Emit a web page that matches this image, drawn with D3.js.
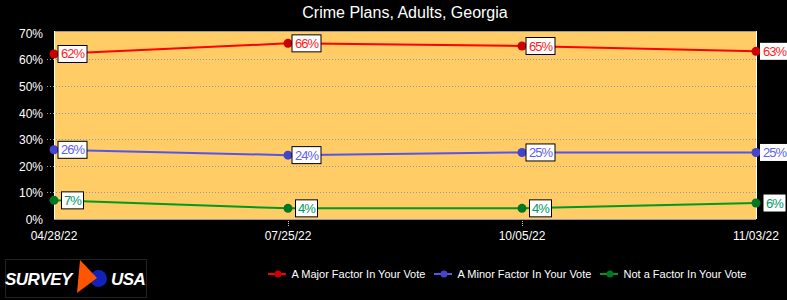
<!DOCTYPE html>
<html>
<head>
<meta charset="utf-8">
<script src="https://cdn.jsdelivr.net/npm/d3@7"></script>
<style>
  body { margin: 0; background: #000; }
  svg { display: block; font-family: Arial, "Liberation Sans", sans-serif; }
</style>
</head>
<body>
<div id="chart"></div>
<script>
var dates = ["04/28/22", "07/25/22", "10/05/22", "11/03/22"];
var major = [62, 66, 65, 63];
var minor = [26, 24, 25, 25];
var notFactor = [7, 4, 4, 6];
var yTicks = [0, 10, 20, 30, 40, 50, 60, 70];

var series = [
  { name: "A Major Factor In Your Vote", values: major, line: "#ff0000", dot: "#cc0000", text: "#ff2020" },
  { name: "A Minor Factor In Your Vote", values: minor, line: "#5555ee", dot: "#4444cc", text: "#6060ee" },
  { name: "Not a Factor In Your Vote", values: notFactor, line: "#009922", dot: "#007722", text: "#009966" }
];

var W = 787, H = 300,
    margin = { top: 31, right: 31, bottom: 81, left: 54 },
    width = W - margin.left - margin.right,
    height = H - margin.top - margin.bottom;

var svg = d3.select("#chart").append("svg").attr("width", W).attr("height", H);
svg.append("rect").attr("width", W).attr("height", H).attr("fill", "#000");

svg.append("text").text("Crime Plans, Adults, Georgia")
  .attr("x", margin.left + width / 2).attr("y", 18).attr("text-anchor", "middle")
  .attr("fill", "#fff").style("font-size", "16px");

var g = svg.append("g").attr("transform", "translate(" + margin.left + "," + margin.top + ")");

var x = d3.scalePoint().domain(dates).range([0, width]);
var y = d3.scaleLinear().domain([0, 70]).range([height, 1.7]);

g.append("rect").attr("width", width).attr("height", height).attr("fill", "#ffcc66");

// gridlines
g.selectAll(".grid").data(yTicks.filter(function(d) { return d > 0 && d < 70; }))
  .enter().append("line")
  .attr("x1", -7).attr("x2", width)
  .attr("y1", function(d) { return Math.round(y(d)) + 0.5; })
  .attr("y2", function(d) { return Math.round(y(d)) + 0.5; })
  .attr("stroke", "#8899bb").attr("stroke-dasharray", "1,2");

// borders
g.append("line").attr("x1", 0).attr("x2", width).attr("y1", 0.5).attr("y2", 0.5).attr("stroke", "#999");
g.append("line").attr("x1", 0).attr("x2", width).attr("y1", height + 0.5).attr("y2", height + 0.5).attr("stroke", "#999");
g.append("line").attr("x1", 0.5).attr("x2", 0.5).attr("y1", 0).attr("y2", height).attr("stroke", "#fff");
g.append("line").attr("x1", width + 0.5).attr("x2", width + 0.5).attr("y1", 0).attr("y2", height).attr("stroke", "#fff");

// y labels
g.selectAll(".ylab").data(yTicks).enter().append("text")
  .text(function(d) { return d + "%"; })
  .attr("x", -11).attr("y", function(d) { return y(d) + 5; })
  .attr("text-anchor", "end").attr("fill", "#fff").style("font-size", "12px");

// x ticks and labels
g.selectAll(".xtick").data(dates.slice(1, -1)).enter().append("line")
  .attr("x1", function(d) { return Math.round(x(d)) + 0.5; })
  .attr("x2", function(d) { return Math.round(x(d)) + 0.5; })
  .attr("y1", height + 2).attr("y2", height + 8)
  .attr("stroke", "#ccc").attr("stroke-dasharray", "1,1");

g.selectAll(".xlab").data(dates).enter().append("text")
  .text(function(d) { return d; })
  .attr("x", function(d) { return x(d); }).attr("y", height + 21)
  .attr("text-anchor", "middle").attr("fill", "#fff").style("font-size", "12px");

var line = d3.line()
  .x(function(d, i) { return x(dates[i]); })
  .y(function(d) { return y(d); });

series.forEach(function(s) {
  g.append("path").datum(s.values).attr("d", line)
    .attr("fill", "none").attr("stroke", s.line).attr("stroke-width", 2);
});

series.forEach(function(s) {
  var pts = g.selectAll(null).data(s.values).enter().append("g")
    .attr("transform", function(d, i) { return "translate(" + x(dates[i]) + "," + y(d) + ")"; });
  pts.append("circle").attr("r", 4.5).attr("fill", s.dot);
  var lab = pts.append("g").attr("transform", "translate(18.5,0)");
  lab.append("rect")
    .attr("x", function(d) { return d >= 10 ? -14.5 : -11; })
    .attr("width", function(d) { return d >= 10 ? 29 : 22; })
    .attr("y", -8.5)
    .attr("height", 17)
    .attr("fill", "#fff")
    .attr("stroke", function(d, i) { return i === dates.length - 1 ? "none" : "#000"; });
  lab.append("text").text(function(d) { return d + "%"; })
    .attr("x", 0).attr("y", 4.5).attr("text-anchor", "middle")
    .attr("fill", s.text).style("font-size", "13px").style("letter-spacing", "-1px");
});

// legend
var legendX = [268, 434, 600];
var lg = svg.selectAll(".legend").data(series).enter().append("g")
  .attr("transform", function(d, i) { return "translate(" + legendX[i] + ",274)"; });
lg.append("line").attr("x1", 0).attr("x2", 18).attr("stroke", function(d) { return d.line; }).attr("stroke-width", 2);
lg.append("circle").attr("cx", 10).attr("r", 3.5).attr("fill", function(d) { return d.dot; });
lg.append("text").text(function(d) { return d.name; })
  .attr("x", 23.5).attr("y", 4).attr("fill", "#fff").style("font-size", "11px");

// logo
var logo = svg.append("g").attr("transform", "translate(5,259)");
logo.append("rect").attr("x", 0.5).attr("y", 0.5).attr("width", 141).attr("height", 38)
  .attr("fill", "none").attr("stroke", "#222");
logo.append("circle").attr("cx", 93.5).attr("cy", 19.5).attr("r", 8.5).attr("fill", "#1122bb");
logo.append("path").attr("d", "M75,1 L92,19 L72,34 Z").attr("fill", "#ff5500");
logo.selectAll(".logotext").data([["SURVEY", 0], ["USA", 106]]).enter().append("text")
  .text(function(d) { return d[0]; }).attr("x", function(d) { return d[1]; }).attr("y", 26)
  .attr("fill", "#fff").style("font-size", "17px").style("font-weight", "bold").style("font-style", "italic")
  .style("letter-spacing", "-0.5px");
</script>
</body>
</html>
